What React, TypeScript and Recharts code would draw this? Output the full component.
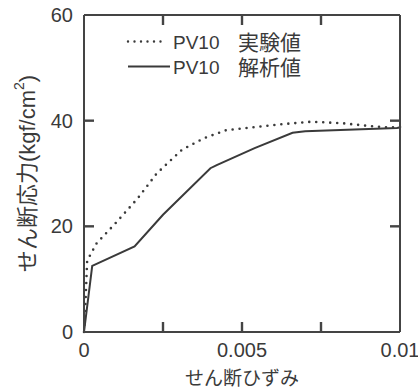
import React from 'react'
import { LineChart, Line, XAxis, YAxis, Legend, ReferenceLine } from 'recharts'

// 実験値 (dotted)
const expStrain = [0, 0.00005, 0.0001, 0.0004, 0.001, 0.0017, 0.0023, 0.0031, 0.0038, 0.0045, 0.0053, 0.0062, 0.0072, 0.0082, 0.009, 0.0097, 0.01]
const expStress = [0, 6, 13.5, 16.8, 20.6, 25.3, 30, 34.5, 36.7, 38.2, 38.7, 39.3, 39.8, 39.5, 39, 38.7, 38.8]

// 解析値 (solid)
const anaStrain = [0, 0.00026, 0.0016, 0.0025, 0.004, 0.0042, 0.0054, 0.0066, 0.007, 0.0099, 0.01]
const anaStress = [0, 12.5, 16.2, 22.2, 31, 31.6, 34.8, 37.7, 38, 38.6, 38.7]

const seriesNames = ['PV10 実験値', 'PV10 解析値']

const xTicks = [0, 0.0025, 0.005, 0.0075, 0.01]
const xTickLabels = ['0', '', '0.005', '', '0.01']
const yTicks = [0, 20, 40, 60]
const yTickLabels = ['0', '20', '40', '60']

const xTitle = 'せん断ひずみ'
const yTitle = 'せん断応力(kgf/cm'

const expData = expStrain.map((x, i) => ({ x, y: expStress[i] }))
const anaData = anaStrain.map((x, i) => ({ x, y: anaStress[i] }))

const X_MIN = xTicks[0]
const X_MAX = xTicks[xTicks.length - 1]
const Y_MIN = yTicks[0]
const Y_MAX = yTicks[yTicks.length - 1]
// tick mark length (~10px) expressed in data units
const X_TICK = (X_MAX - X_MIN) * 10 / 316
const Y_TICK = (Y_MAX - Y_MIN) * 10 / 317
const innerX = xTicks.slice(1, -1)
const innerY = yTicks.slice(1, -1)

const INK = '#3a3a3a'
const AXIS = '#444'
const FONT = "'Liberation Sans', 'Noto Sans CJK JP', sans-serif"

function makeTick(side: 'bottom' | 'left', labels: string[]) {
  return (props: any) => {
    const { x, y, index } = props
    const label = labels[index]
    if (!label) return <g />
    return side === 'bottom' ? (
      <text x={x} y={y + 18} textAnchor="middle" dominantBaseline="central" fill={INK} fontSize={20}>
        {label}
      </text>
    ) : (
      <text x={x - 11} y={y} textAnchor="end" dominantBaseline="central" fill={INK} fontSize={20}>
        {label}
      </text>
    )
  }
}

function renderLegend() {
  return (
    <svg width={240} height={60}>
      {seriesNames.map((name, i) => {
        const [code, kind] = name.split(' ')
        const cy = 13.5 + i * 25
        return (
          <g key={name}>
            <line
              x1={8}
              x2={i === 0 ? 42 : 50}
              y1={cy}
              y2={cy}
              stroke={INK}
              strokeWidth={i === 0 ? 2.4 : 2}
              strokeDasharray={i === 0 ? '0 6.5' : undefined}
              strokeLinecap={i === 0 ? 'round' : 'butt'}
            />
            <text y={cy} dominantBaseline="central" fill={INK} fontFamily={FONT}>
              <tspan x={53} fontSize={19}>{code}</tspan>
              <tspan x={118} fontSize={21}>{kind}</tspan>
            </text>
          </g>
        )
      })}
    </svg>
  )
}

export default function App() {
  return (
    <div style={{ position: 'absolute', left: 0, top: 0, fontFamily: FONT }}>
      <LineChart width={418} height={391} margin={{ top: 14, right: 17, left: 0, bottom: 0 }}>
        <XAxis
          dataKey="x"
          type="number"
          domain={[X_MIN, X_MAX]}
          ticks={xTicks}
          height={59}
          tickSize={0}
          tickMargin={0}
          tickLine={false}
          tick={makeTick('bottom', xTickLabels)}
          stroke={AXIS}
          strokeWidth={2}
          label={{
            content: ({ viewBox }: any) => (
              <text
                x={viewBox.x + viewBox.width / 2}
                y={378}
                textAnchor="middle"
                dominantBaseline="central"
                fill={INK}
                fontSize={19}
              >
                {xTitle}
              </text>
            ),
          }}
        />
        <XAxis
          xAxisId="top"
          dataKey="x"
          orientation="top"
          type="number"
          domain={[X_MIN, X_MAX]}
          ticks={xTicks}
          height={1}
          tick={false}
          tickLine={false}
          stroke={AXIS}
          strokeWidth={2}
        />
        <YAxis
          dataKey="y"
          type="number"
          domain={[Y_MIN, Y_MAX]}
          ticks={yTicks}
          width={84}
          tickSize={0}
          tickMargin={0}
          tickLine={false}
          tick={makeTick('left', yTickLabels)}
          stroke={AXIS}
          strokeWidth={2}
          label={{
            content: ({ viewBox }: any) => {
              const cx = 27
              const cy = viewBox.y + viewBox.height / 2
              return (
                <text
                  x={cx}
                  y={cy}
                  transform={`rotate(-90 ${cx} ${cy})`}
                  textAnchor="middle"
                  dominantBaseline="central"
                  fill={INK}
                  fontSize={22}
                >
                  {yTitle}
                  <tspan dy={-8} fontSize={14}>2</tspan>
                  <tspan dy={8}>)</tspan>
                </text>
              )
            },
          }}
        />
        <YAxis
          yAxisId="right"
          dataKey="y"
          orientation="right"
          type="number"
          domain={[Y_MIN, Y_MAX]}
          ticks={yTicks}
          width={1}
          tick={false}
          tickLine={false}
          stroke={AXIS}
          strokeWidth={2}
        />
        <Legend
          content={renderLegend}
          layout="vertical"
          align="center"
          verticalAlign="middle"
          wrapperStyle={{ position: 'absolute', left: 120, top: 28, width: 240, height: 60 }}
        />
        {/* inward tick marks on all four sides */}
        {innerX.map((t) => (
          <ReferenceLine key={`b${t}`} segment={[{ x: t, y: Y_MIN }, { x: t, y: Y_MIN + Y_TICK }]} stroke={AXIS} strokeWidth={2.4} ifOverflow="visible" />
        ))}
        {innerX.map((t) => (
          <ReferenceLine key={`t${t}`} segment={[{ x: t, y: Y_MAX }, { x: t, y: Y_MAX - Y_TICK }]} stroke={AXIS} strokeWidth={2.4} ifOverflow="visible" />
        ))}
        {innerY.map((t) => (
          <ReferenceLine key={`l${t}`} segment={[{ x: X_MIN, y: t }, { x: X_MIN + X_TICK, y: t }]} stroke={AXIS} strokeWidth={2.4} ifOverflow="visible" />
        ))}
        {innerY.map((t) => (
          <ReferenceLine key={`r${t}`} segment={[{ x: X_MAX, y: t }, { x: X_MAX - X_TICK, y: t }]} stroke={AXIS} strokeWidth={2.4} ifOverflow="visible" />
        ))}
        {/* invisible series so the top/right frame axes get drawn */}
        <Line
          data={anaData}
          dataKey="y"
          xAxisId="top"
          yAxisId="right"
          stroke="none"
          dot={false}
          legendType="none"
          isAnimationActive={false}
        />
        <Line
          data={expData}
          dataKey="y"
          name={seriesNames[0]}
          type="linear"
          stroke={INK}
          strokeWidth={2.6}
          strokeDasharray="0 7"
          strokeLinecap="round"
          dot={false}
          isAnimationActive={false}
        />
        <Line
          data={anaData}
          dataKey="y"
          name={seriesNames[1]}
          type="linear"
          stroke={INK}
          strokeWidth={2}
          dot={false}
          isAnimationActive={false}
        />
      </LineChart>
    </div>
  )
}
